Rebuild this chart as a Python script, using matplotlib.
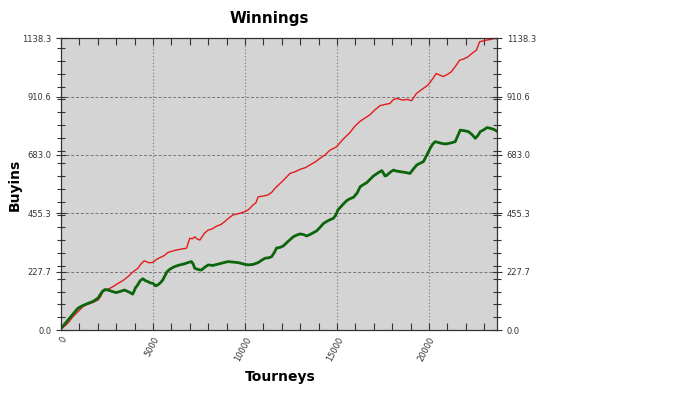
import matplotlib
matplotlib.use("Agg")
import matplotlib.pyplot as plt
from matplotlib.ticker import MultipleLocator

# red line: cumulative winnings (buyins) vs tourneys
red_x = [0, 380, 650, 920, 1200, 1470, 1750, 2010, 2150, 2280, 2550, 2800,
         3100, 3350, 3640, 3900, 4180, 4350, 4530, 4800, 5000, 5200, 5430,
         5600, 5800, 6000, 6270, 6550, 6820, 7000, 7150, 7270, 7400, 7550,
         7800, 8000, 8200, 8450, 8700, 8900, 9100, 9350, 9650, 10000, 10200,
         10440, 10600, 10720, 10950, 11250, 11450, 11630, 11720, 12100,
         12450, 12700, 13000, 13300, 13530, 13800, 14080, 14350, 14620,
         14800, 14980, 15300, 15700, 15950, 16230, 16500, 16780, 17050,
         17330, 17600, 17880, 18050, 18240, 18590, 18800, 19060, 19320,
         19600, 19950, 20200, 20400, 20550, 20770, 21000, 21220, 21450,
         21670, 21900, 22120, 22350, 22580, 22650, 22760, 22950, 23120,
         23350, 23570, 23700]
red_y = [3, 27, 52, 71, 92, 101, 108, 117, 130, 150, 159, 168,
         182, 192, 208, 226, 241, 258, 270, 262, 264, 276, 284,
         290, 302, 307, 312, 316, 319, 358, 356, 364, 355, 351,
         378, 390, 394, 405, 412, 423, 436, 449, 454, 462, 470,
         488, 497, 520, 522, 527, 537, 553, 559, 585,
         611, 617, 627, 634, 644, 655, 670, 683, 702,
         708, 715, 742, 770, 793, 813, 826, 839, 858,
         875, 880, 884, 898, 904, 897, 900, 895, 923,
         938, 956, 980, 1001, 996, 989, 997, 1008, 1030,
         1053, 1058, 1066, 1080, 1092, 1105, 1125, 1128, 1131,
         1134, 1138, 1136]

# green line
green_x = [0, 380, 650, 920, 1200, 1470, 1750, 2010, 2150, 2280, 2400, 2550,
           2800, 3000, 3200, 3450, 3700, 3900, 4050, 4170, 4300, 4450, 4600,
           4720, 4850, 5000, 5150, 5260, 5400, 5530, 5650, 5770, 5900, 6000,
           6200, 6460, 6700, 6900, 7090, 7180, 7270, 7450, 7630, 7800, 8000,
           8250, 8540, 8800, 9080, 9350, 9630, 9900, 10170, 10450, 10720,
           10900, 11090, 11300, 11450, 11600, 11720, 11900, 12080, 12350,
           12630, 12800, 13000, 13200, 13360, 13600, 13900, 14100, 14270,
           14550, 14810, 14950, 15050, 15300, 15530, 15700, 15900, 16100,
           16260, 16450, 16620, 16800, 16980, 17250, 17440, 17530, 17610,
           17700, 17900, 18070, 18250, 18430, 18700, 18970, 19150, 19340,
           19500, 19700, 19900, 20070, 20200, 20340, 20500, 20700, 20900,
           21060, 21250, 21430, 21550, 21700, 21900, 22150, 22350, 22520,
           22650, 22790, 22950, 23160, 23400, 23610, 23700]
green_y = [6, 39, 62, 85, 96, 104, 112, 124, 140, 153, 158, 156,
           150, 146, 150, 156, 148, 140, 165, 176, 192, 200, 192,
           189, 184, 182, 172, 176, 184, 195, 212, 228, 236, 241,
           248, 254, 258, 263, 267, 258, 241, 236, 234, 244, 254,
           252, 257, 262, 267, 265, 263, 258, 254, 256, 263,
           272, 280, 282, 286, 303, 320, 322, 328, 346,
           364, 370, 375, 372, 367, 375, 387, 402, 416,
           428, 436, 450, 468, 488, 505, 512, 518, 535,
           559, 568, 575, 588, 601, 614, 622, 612, 601,
           603, 616, 624, 620, 618, 615, 611, 628, 644,
           650, 657, 685, 709, 725, 735, 732, 728, 726,
           728, 731, 735, 755, 780, 778, 774, 762, 748,
           758, 774, 780, 790, 786, 780, 775]

y_ticks = [0.0, 227.7, 455.3, 683.0, 910.6, 1138.3]
y_labels = ["0.0", "227.7", "455.3", "683.0", "910.6", "1138.3"]
x_ticks = [0, 5000, 10000, 15000, 20000]

fig = plt.figure(figsize=(7, 3.94), dpi=100)
ax = fig.add_axes([61/700, 1-330/394, 436/700, 291.7/394])
ax.set_facecolor("#d4d4d4")

ax.plot(red_x, red_y, color="#e31b1b", lw=1.0)
ax.plot(green_x, green_y, color="#0b650b", lw=2.0)

ax.set_xlim(0, 23700)
ax.set_ylim(0, 1138.3)

ax.set_yticks(y_ticks)
ax.set_yticklabels(y_labels)
ax.yaxis.set_minor_locator(MultipleLocator(50))
ax.set_xticks(x_ticks)
ax.xaxis.set_minor_locator(MultipleLocator(1000))
for lab in ax.set_xticklabels([str(v) for v in x_ticks]):
    lab.set_rotation(62)
    lab.set_ha("right")
    lab.set_va("top")
    lab.set_rotation_mode("anchor")

ax.tick_params(axis="y", which="both", direction="inout", left=True, right=True,
               labelleft=True, labelright=True, labelsize=6, colors="#333333",
               length=7, width=0.8)
ax.tick_params(axis="y", which="minor", length=6)
ax.tick_params(axis="x", which="both", direction="in", top=True, bottom=True,
               labelsize=6, colors="#333333", length=5, width=0.8)
ax.tick_params(axis="x", which="major", pad=4)

ax.grid(axis="y", which="major", linestyle=(0, (3, 2)), color="#777777", lw=0.7)
ax.grid(axis="x", which="major", linestyle=(0, (1, 2)), color="#777777", lw=0.8)

for s in ax.spines.values():
    s.set_color("#333333")
    s.set_linewidth(0.9)

fig.text(269/700, 1-18/394, "Winnings", ha="center", va="center",
         fontsize=11, fontweight="bold")
fig.text(280/700, 1-377/394, "Tourneys", ha="center", va="center",
         fontsize=10, fontweight="bold")
fig.text(15/700, 1-185/394, "Buyins", ha="center", va="center",
         fontsize=10, fontweight="bold", rotation=90)

fig.savefig("out.png", dpi=100)
